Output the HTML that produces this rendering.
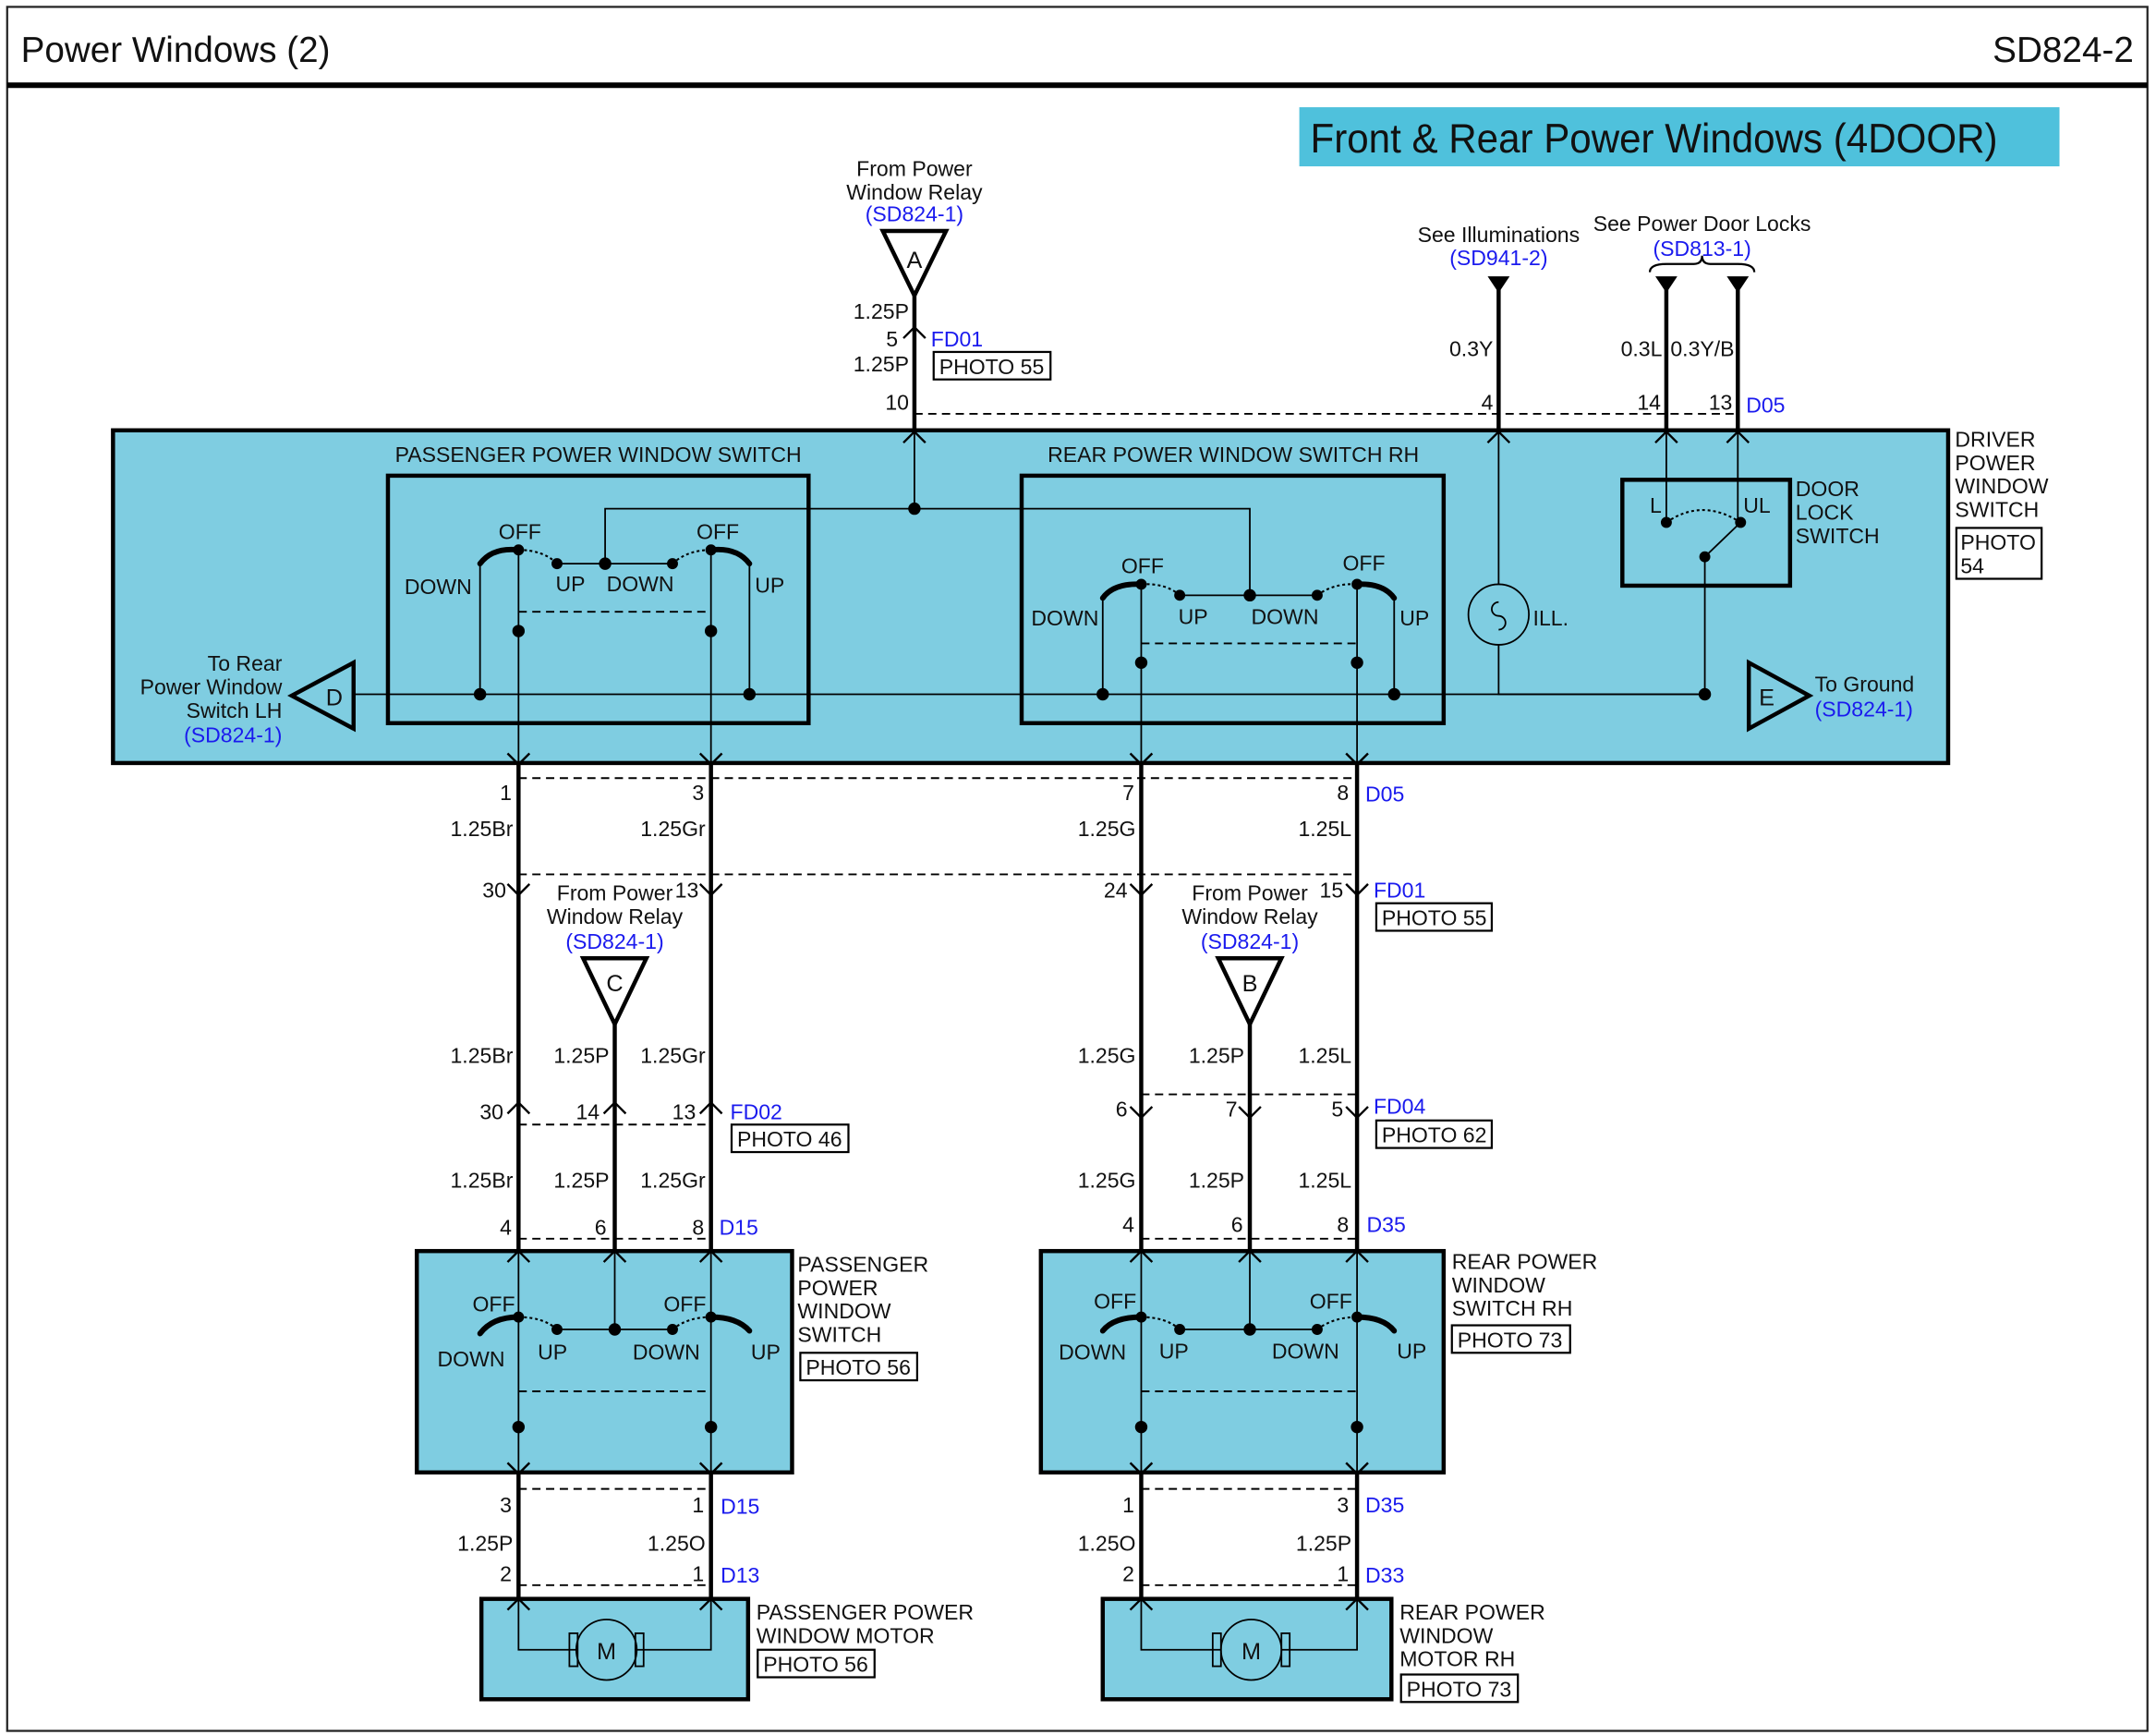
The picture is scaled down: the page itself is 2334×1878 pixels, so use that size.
<!DOCTYPE html>
<html><head><meta charset="utf-8"><style>
html,body{margin:0;padding:0;background:#fff;}
svg{display:block;}
text{font-family:"Liberation Sans",Arial,sans-serif;fill:#111;}
.b{fill:#1a1aee;}
</style></head><body>
<svg width="2334" height="1878" viewBox="0 0 1568 1262" xmlns="http://www.w3.org/2000/svg">
<rect x="0" y="0" width="1568" height="1262" fill="#fff"/>
<rect x="5" y="5" width="1557" height="1254" fill="none" stroke="#222" stroke-width="1.5"/>
<line x1="5" y1="62" x2="1562" y2="62" stroke="#000" stroke-width="4"/>
<text x="15" y="45" font-size="26" textLength="225" lengthAdjust="spacingAndGlyphs">Power Windows (2)</text>
<text x="1552" y="45" font-size="26" text-anchor="end">SD824-2</text>
<rect x="945" y="78" width="553" height="43" fill="#4fc1dc"/>
<text x="953" y="111" font-size="30" textLength="500" lengthAdjust="spacingAndGlyphs">Front &amp; Rear Power Windows (4DOOR)</text>

<!-- Boxes -->
<g fill="#7fcde1" stroke="#000" stroke-width="3">
<rect x="82" y="313" width="1335" height="242"/>
<rect x="303" y="910" width="273" height="161"/>
<rect x="757" y="910" width="293" height="161"/>
<rect x="350" y="1163" width="194" height="73"/>
<rect x="802" y="1163" width="210" height="73"/>
</g>
<g fill="none" stroke="#000" stroke-width="3">
<rect x="282" y="346" width="306" height="180"/>
<rect x="743" y="346" width="307" height="180"/>
<rect x="1180" y="349" width="122" height="77"/>
</g>

<!-- thick wires -->
<g stroke="#000" stroke-width="3" fill="none">
<line x1="665" y1="215" x2="665" y2="313"/>
<line x1="1090" y1="210" x2="1090" y2="313"/>
<line x1="1212" y1="210" x2="1212" y2="313"/>
<line x1="1264" y1="210" x2="1264" y2="313"/>
<line x1="377" y1="555" x2="377" y2="910"/>
<line x1="517" y1="555" x2="517" y2="910"/>
<line x1="830" y1="555" x2="830" y2="910"/>
<line x1="987" y1="555" x2="987" y2="910"/>
<line x1="447" y1="745" x2="447" y2="910"/>
<line x1="909" y1="745" x2="909" y2="910"/>
<line x1="377" y1="1071" x2="377" y2="1163"/>
<line x1="517" y1="1071" x2="517" y2="1163"/>
<line x1="830" y1="1071" x2="830" y2="1163"/>
<line x1="987" y1="1071" x2="987" y2="1163"/>
</g>
<path d="M1200,198 Q1200,192 1212,192 L1232,192 Q1238,192 1238,186 Q1238,192 1244,192 L1264,192 Q1276,192 1276,198" fill="none" stroke="#000" stroke-width="1.5"/>
<!-- triangles -->
<g fill="#fff" stroke="#000" stroke-width="3">
<polygon points="642,168 688,168 665,215"/>
<polygon points="424,697 470,697 447,745"/>
<polygon points="886,697 932,697 909,745"/>
<polygon points="257,482 257,530 212,506" fill="none"/>
<polygon points="1272,482 1272,530 1316,506" fill="none"/>
</g>
<text x="665" y="195" font-size="17" text-anchor="middle">A</text>
<text x="447" y="721" font-size="17" text-anchor="middle">C</text>
<text x="909" y="721" font-size="17" text-anchor="middle">B</text>
<text x="243" y="513" font-size="17" text-anchor="middle">D</text>
<text x="1285" y="513" font-size="17" text-anchor="middle">E</text>
<g fill="#000"><polygon points="1082,201 1098,201 1090,213"/><polygon points="1204,201 1220,201 1212,213"/><polygon points="1256,201 1272,201 1264,213"/></g>

<!-- dashed -->
<g stroke="#000" stroke-width="1.3" stroke-dasharray="6,4" fill="none">
<line x1="665" y1="301" x2="1264" y2="301"/>
<line x1="377" y1="566" x2="987" y2="566"/>
<line x1="377" y1="636" x2="987" y2="636"/>
<line x1="377" y1="818" x2="517" y2="818"/>
<line x1="830" y1="796" x2="987" y2="796"/>
<line x1="377" y1="901" x2="517" y2="901"/>
<line x1="830" y1="901" x2="987" y2="901"/>
<line x1="377" y1="1083" x2="517" y2="1083"/>
<line x1="830" y1="1083" x2="987" y2="1083"/>
<line x1="377" y1="1153" x2="517" y2="1153"/>
<line x1="830" y1="1153" x2="987" y2="1153"/>
<line x1="377" y1="445" x2="517" y2="445"/>
<line x1="830" y1="468" x2="987" y2="468"/>
<line x1="377" y1="1012" x2="517" y2="1012"/>
<line x1="830" y1="1012" x2="987" y2="1012"/>
</g>

<!-- connector chevrons -->
<g stroke="#000" stroke-width="1.6" fill="none">
<path d="M657,246 L665,238 L673,246"/>
<path d="M657,322 L665,314 L673,322 M1082,322 L1090,314 L1098,322 M1204,322 L1212,314 L1220,322 M1256,322 L1264,314 L1272,322"/>
<path d="M369,548 L377,556 L385,548 M509,548 L517,556 L525,548 M822,548 L830,556 L838,548 M979,548 L987,556 L995,548"/>
<path d="M369,643 L377,651 L385,643 M509,643 L517,651 L525,643 M822,643 L830,651 L838,643 M979,643 L987,651 L995,643"/>
<path d="M369,810 L377,802 L385,810 M439,810 L447,802 L455,810 M509,810 L517,802 L525,810"/>
<path d="M822,805 L830,813 L838,805 M901,805 L909,813 L917,805 M979,805 L987,813 L995,805"/>
<path d="M369,918 L377,910 L385,918 M439,918 L447,910 L455,918 M509,918 L517,910 L525,918 M822,918 L830,910 L838,918 M901,918 L909,910 L917,918 M979,918 L987,910 L995,918"/>
<path d="M369,1064 L377,1072 L385,1064 M509,1064 L517,1072 L525,1064 M822,1064 L830,1072 L838,1064 M979,1064 L987,1072 L995,1064"/>
<path d="M369,1171 L377,1163 L385,1171 M509,1171 L517,1163 L525,1171 M822,1171 L830,1163 L838,1171 M979,1171 L987,1163 L995,1171"/>
</g>

<!-- internal thin wiring -->
<g stroke="#000" stroke-width="1.2" fill="none">
<line x1="665" y1="313" x2="665" y2="370"/>
<polyline points="440,410 440,370 909,370 909,433"/>
<line x1="257" y1="505" x2="1240" y2="505"/>
<line x1="377" y1="400" x2="377" y2="555"/>
<line x1="517" y1="400" x2="517" y2="555"/>
<line x1="349" y1="410" x2="349" y2="505"/>
<line x1="545" y1="410" x2="545" y2="505"/>
<line x1="405" y1="410" x2="489" y2="410"/>
<line x1="830" y1="425" x2="830" y2="555"/>
<line x1="987" y1="425" x2="987" y2="555"/>
<line x1="802" y1="435" x2="802" y2="505"/>
<line x1="1014" y1="435" x2="1014" y2="505"/>
<line x1="858" y1="433" x2="958" y2="433"/>
<line x1="1090" y1="313" x2="1090" y2="425"/>
<polyline points="1090,469 1090,505 1240,505"/>
<line x1="1240" y1="405" x2="1240" y2="505"/>
<line x1="1212" y1="313" x2="1212" y2="380"/>
<line x1="1264" y1="313" x2="1264" y2="380"/>
<line x1="1240" y1="405" x2="1266" y2="380"/>
<circle cx="1090" cy="447" r="22"/>
<path d="M1090,438 a5,5 0 1 0 0,10 a5,5 0 1 1 0,10"/>
<line x1="377" y1="910" x2="377" y2="1071"/>
<line x1="517" y1="910" x2="517" y2="1071"/>
<line x1="447" y1="910" x2="447" y2="967"/>
<line x1="405" y1="967" x2="489" y2="967"/>
<line x1="830" y1="910" x2="830" y2="1071"/>
<line x1="987" y1="910" x2="987" y2="1071"/>
<line x1="909" y1="910" x2="909" y2="967"/>
<line x1="858" y1="967" x2="958" y2="967"/>
<polyline points="377,1163 377,1200 420,1200"/>
<polyline points="517,1163 517,1200 463,1200"/>
<polyline points="830,1163 830,1200 888,1200"/>
<polyline points="987,1163 987,1200 932,1200"/>
<circle cx="441" cy="1200" r="22" fill="#7fcde1"/>
<circle cx="910" cy="1200" r="22" fill="#7fcde1"/>
<rect x="414" y="1188" width="6" height="24"/><rect x="462" y="1188" width="6" height="24"/>
<rect x="882" y="1188" width="6" height="24"/><rect x="932" y="1188" width="6" height="24"/>
</g>
<text x="441" y="1207" font-size="17" text-anchor="middle">M</text>
<text x="910" y="1207" font-size="17" text-anchor="middle">M</text>

<g stroke="#000" stroke-width="4" fill="none" stroke-linecap="round">
<path d="M349,410 Q358,398 377,400"/><path d="M517,400 Q536,398 545,410"/>
<path d="M802,435 Q810,424 830,425"/><path d="M987,425 Q1006,424 1014,435"/>
<path d="M349,970 Q358,958 377,958"/><path d="M517,958 Q536,958 545,968"/>
<path d="M802,968 Q810,958 830,958"/><path d="M987,958 Q1006,958 1014,968"/>
</g>
<g stroke="#000" stroke-width="1.4" fill="none" stroke-dasharray="2,2">
<path d="M377,400 Q395,400 405,410"/><path d="M489,410 Q500,400 517,400"/>
<path d="M830,425 Q848,424 858,433"/><path d="M958,433 Q970,424 987,425"/>
<path d="M377,958 Q395,958 405,967"/><path d="M489,967 Q500,958 517,958"/>
<path d="M830,958 Q848,958 858,967"/><path d="M958,967 Q970,958 987,958"/>
<path d="M1212,380 Q1238,362 1266,380"/>
</g>
<g fill="#000">
<circle cx="377" cy="400" r="4"/><circle cx="517" cy="400" r="4"/><circle cx="405" cy="410" r="4"/><circle cx="489" cy="410" r="4"/><circle cx="440" cy="410" r="4.5"/>
<circle cx="377" cy="459" r="4.5"/><circle cx="517" cy="459" r="4.5"/><circle cx="349" cy="505" r="4.5"/><circle cx="545" cy="505" r="4.5"/>
<circle cx="665" cy="370" r="4.5"/>
<circle cx="830" cy="425" r="4"/><circle cx="987" cy="425" r="4"/><circle cx="858" cy="433" r="4"/><circle cx="958" cy="433" r="4"/><circle cx="909" cy="433" r="4.5"/>
<circle cx="830" cy="482" r="4.5"/><circle cx="987" cy="482" r="4.5"/><circle cx="802" cy="505" r="4.5"/><circle cx="1014" cy="505" r="4.5"/>
<circle cx="1240" cy="505" r="4.5"/><circle cx="1240" cy="405" r="4"/><circle cx="1212" cy="380" r="4"/><circle cx="1266" cy="380" r="4"/>
<circle cx="377" cy="958" r="4"/><circle cx="517" cy="958" r="4"/><circle cx="405" cy="967" r="4"/><circle cx="489" cy="967" r="4"/><circle cx="447" cy="967" r="4.5"/>
<circle cx="377" cy="1038" r="4.5"/><circle cx="517" cy="1038" r="4.5"/>
<circle cx="830" cy="958" r="4"/><circle cx="987" cy="958" r="4"/><circle cx="858" cy="967" r="4"/><circle cx="958" cy="967" r="4"/><circle cx="909" cy="967" r="4.5"/>
<circle cx="830" cy="1038" r="4.5"/><circle cx="987" cy="1038" r="4.5"/>
</g>

<g fill="none" stroke="#000" stroke-width="1.5">
<rect x="679" y="256" width="85" height="20"/>
<rect x="1423" y="384" width="62" height="37"/>
<rect x="1001" y="657" width="84" height="20"/>
<rect x="532" y="818" width="85" height="20"/>
<rect x="1001" y="815" width="84" height="20"/>
<rect x="582" y="984" width="85" height="20"/>
<rect x="1056" y="964" width="86" height="20"/>
<rect x="551" y="1200" width="85" height="20"/>
<rect x="1019" y="1218" width="85" height="20"/>
</g>

<g font-size="15.5">
<text x="665" y="128" text-anchor="middle">From Power</text>
<text x="665" y="145" text-anchor="middle">Window Relay</text>
<text x="665" y="161" text-anchor="middle" class="b">(SD824-1)</text>
<text x="661" y="232" text-anchor="end">1.25P</text>
<text x="653" y="252" text-anchor="end">5</text>
<text x="677" y="252" class="b">FD01</text>
<text x="661" y="270" text-anchor="end">1.25P</text>
<text x="683" y="272">PHOTO 55</text>
<text x="661" y="298" text-anchor="end">10</text>
<text x="1090" y="176" text-anchor="middle">See Illuminations</text>
<text x="1090" y="193" text-anchor="middle" class="b">(SD941-2)</text>
<text x="1238" y="168" text-anchor="middle">See Power Door Locks</text>
<text x="1238" y="186" text-anchor="middle" class="b">(SD813-1)</text>
<text x="1086" y="259" text-anchor="end">0.3Y</text>
<text x="1209" y="259" text-anchor="end">0.3L</text>
<text x="1215" y="259">0.3Y/B</text>
<text x="1086" y="298" text-anchor="end">4</text>
<text x="1208" y="298" text-anchor="end">14</text>
<text x="1260" y="298" text-anchor="end">13</text>
<text x="1270" y="300" class="b">D05</text>
<text x="1422" y="325">DRIVER</text>
<text x="1422" y="342">POWER</text>
<text x="1422" y="359">WINDOW</text>
<text x="1422" y="376">SWITCH</text>
<text x="1426" y="400">PHOTO</text>
<text x="1426" y="417">54</text>
<text x="435" y="336" text-anchor="middle">PASSENGER POWER WINDOW SWITCH</text>
<text x="897" y="336" text-anchor="middle">REAR POWER WINDOW SWITCH RH</text>
<text x="1306" y="361">DOOR</text>
<text x="1306" y="378">LOCK</text>
<text x="1306" y="395">SWITCH</text>
<text x="1200" y="373">L</text>
<text x="1268" y="373">UL</text>
<text x="1115" y="455">ILL.</text>
<text x="378" y="392" text-anchor="middle">OFF</text>
<text x="522" y="392" text-anchor="middle">OFF</text>
<text x="294" y="432">DOWN</text>
<text x="404" y="430">UP</text>
<text x="441" y="430">DOWN</text>
<text x="549" y="431">UP</text>
<text x="831" y="417" text-anchor="middle">OFF</text>
<text x="992" y="415" text-anchor="middle">OFF</text>
<text x="750" y="455">DOWN</text>
<text x="857" y="454">UP</text>
<text x="910" y="454">DOWN</text>
<text x="1018" y="455">UP</text>
<text x="205" y="488" text-anchor="end">To Rear</text>
<text x="205" y="505" text-anchor="end">Power Window</text>
<text x="205" y="522" text-anchor="end">Switch LH</text>
<text x="205" y="540" text-anchor="end" class="b">(SD824-1)</text>
<text x="1320" y="503">To Ground</text>
<text x="1320" y="521" class="b">(SD824-1)</text>
<text x="372" y="582" text-anchor="end">1</text>
<text x="512" y="582" text-anchor="end">3</text>
<text x="825" y="582" text-anchor="end">7</text>
<text x="981" y="582" text-anchor="end">8</text>
<text x="993" y="583" class="b">D05</text>
<text x="373" y="608" text-anchor="end">1.25Br</text>
<text x="513" y="608" text-anchor="end">1.25Gr</text>
<text x="826" y="608" text-anchor="end">1.25G</text>
<text x="983" y="608" text-anchor="end">1.25L</text>
<text x="368" y="653" text-anchor="end">30</text>
<text x="508" y="653" text-anchor="end">13</text>
<text x="820" y="653" text-anchor="end">24</text>
<text x="977" y="653" text-anchor="end">15</text>
<text x="999" y="653" class="b">FD01</text>
<text x="1005" y="673">PHOTO 55</text>
<text x="447" y="655" text-anchor="middle">From Power</text>
<text x="447" y="672" text-anchor="middle">Window Relay</text>
<text x="447" y="690" text-anchor="middle" class="b">(SD824-1)</text>
<text x="909" y="655" text-anchor="middle">From Power</text>
<text x="909" y="672" text-anchor="middle">Window Relay</text>
<text x="909" y="690" text-anchor="middle" class="b">(SD824-1)</text>
<text x="373" y="773" text-anchor="end">1.25Br</text>
<text x="443" y="773" text-anchor="end">1.25P</text>
<text x="513" y="773" text-anchor="end">1.25Gr</text>
<text x="826" y="773" text-anchor="end">1.25G</text>
<text x="905" y="773" text-anchor="end">1.25P</text>
<text x="983" y="773" text-anchor="end">1.25L</text>
<text x="366" y="814" text-anchor="end">30</text>
<text x="436" y="814" text-anchor="end">14</text>
<text x="506" y="814" text-anchor="end">13</text>
<text x="531" y="814" class="b">FD02</text>
<text x="536" y="834">PHOTO 46</text>
<text x="820" y="812" text-anchor="end">6</text>
<text x="900" y="812" text-anchor="end">7</text>
<text x="977" y="812" text-anchor="end">5</text>
<text x="999" y="810" class="b">FD04</text>
<text x="1005" y="831">PHOTO 62</text>
<text x="373" y="864" text-anchor="end">1.25Br</text>
<text x="443" y="864" text-anchor="end">1.25P</text>
<text x="513" y="864" text-anchor="end">1.25Gr</text>
<text x="826" y="864" text-anchor="end">1.25G</text>
<text x="905" y="864" text-anchor="end">1.25P</text>
<text x="983" y="864" text-anchor="end">1.25L</text>
<text x="372" y="898" text-anchor="end">4</text>
<text x="441" y="898" text-anchor="end">6</text>
<text x="512" y="898" text-anchor="end">8</text>
<text x="523" y="898" class="b">D15</text>
<text x="825" y="896" text-anchor="end">4</text>
<text x="904" y="896" text-anchor="end">6</text>
<text x="981" y="896" text-anchor="end">8</text>
<text x="994" y="896" class="b">D35</text>
<text x="580" y="925">PASSENGER</text>
<text x="580" y="942">POWER</text>
<text x="580" y="959">WINDOW</text>
<text x="580" y="976">SWITCH</text>
<text x="586" y="1000">PHOTO 56</text>
<text x="1056" y="923">REAR POWER</text>
<text x="1056" y="940">WINDOW</text>
<text x="1056" y="957">SWITCH RH</text>
<text x="1060" y="980">PHOTO 73</text>
<text x="359" y="954" text-anchor="middle">OFF</text>
<text x="498" y="954" text-anchor="middle">OFF</text>
<text x="318" y="994">DOWN</text>
<text x="391" y="989">UP</text>
<text x="460" y="989">DOWN</text>
<text x="546" y="989">UP</text>
<text x="811" y="952" text-anchor="middle">OFF</text>
<text x="968" y="952" text-anchor="middle">OFF</text>
<text x="770" y="989">DOWN</text>
<text x="843" y="988">UP</text>
<text x="925" y="988">DOWN</text>
<text x="1016" y="988">UP</text>
<text x="372" y="1100" text-anchor="end">3</text>
<text x="512" y="1100" text-anchor="end">1</text>
<text x="524" y="1101" class="b">D15</text>
<text x="825" y="1100" text-anchor="end">1</text>
<text x="981" y="1100" text-anchor="end">3</text>
<text x="993" y="1100" class="b">D35</text>
<text x="373" y="1128" text-anchor="end">1.25P</text>
<text x="513" y="1128" text-anchor="end">1.25O</text>
<text x="826" y="1128" text-anchor="end">1.25O</text>
<text x="983" y="1128" text-anchor="end">1.25P</text>
<text x="372" y="1150" text-anchor="end">2</text>
<text x="512" y="1150" text-anchor="end">1</text>
<text x="524" y="1151" class="b">D13</text>
<text x="825" y="1150" text-anchor="end">2</text>
<text x="981" y="1150" text-anchor="end">1</text>
<text x="993" y="1151" class="b">D33</text>
<text x="550" y="1178">PASSENGER POWER</text>
<text x="550" y="1195">WINDOW MOTOR</text>
<text x="555" y="1216">PHOTO 56</text>
<text x="1018" y="1178">REAR POWER</text>
<text x="1018" y="1195">WINDOW</text>
<text x="1018" y="1212">MOTOR RH</text>
<text x="1023" y="1234">PHOTO 73</text>
</g>
</svg>
</body></html>
